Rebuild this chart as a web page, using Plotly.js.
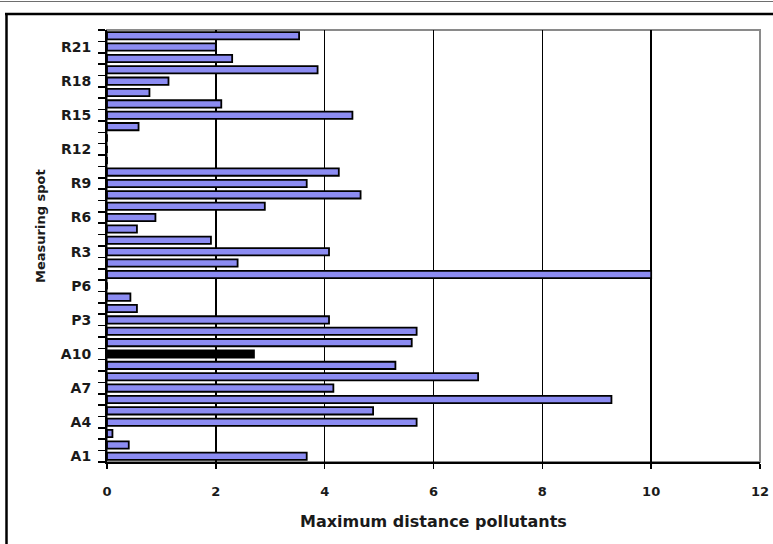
<!DOCTYPE html>
<html>
<head>
<meta charset="utf-8">
<script src="https://cdn.plot.ly/plotly-3.0.1.min.js"></script>
<style>
  html, body { margin: 0; padding: 0; background: #ffffff; }
  #chart { width: 773px; height: 544px; }
</style>
</head>
<body>
<div id="chart"></div>
<script>
// Measuring spots (bottom to top)
const categories = [
  'A1','A2','A3','A4','A5','A6','A7','A8','A9','A10',
  'P1','P2','P3','P4','P5','P6',
  'R1','R2','R3','R4','R5','R6','R7','R8','R9','R10',
  'R11','R12','R13','R14','R15','R16','R17','R18','R19','R20','R21','R22'
];
// Maximum distance pollutants
const values = [
  3.67, 0.40, 0.10, 5.69, 4.89, 9.27, 4.16, 6.82, 5.30, 2.70,
  5.60, 5.69, 4.08, 0.55, 0.43, 0.00,
  10.00, 2.40, 4.08, 1.91, 0.55, 0.89, 2.90, 4.66, 3.67, 4.26,
  0.00, 0.00, 0.00, 0.58, 4.51, 2.10, 0.78, 1.13, 3.87, 2.30, 2.00, 3.53
];
// Labelled spots on the category axis
const labelledSpots = ['A1','A4','A7','A10','P3','P6','R3','R6','R9','R12','R15','R18','R21'];
const highlighted = ['A10'];
const xTickValues = [0, 2, 4, 6, 8, 10, 12];

const fillColors = categories.map(c => highlighted.includes(c) ? '#000000' : '#8c8cf2');
const tickText = categories.map(c => labelledSpots.includes(c) ? c : '');

const L = 107, R = 760, T = 30, B = 462, W = 773, H = 544;
const px = v => (v - L) / (R - L);
const py = v => (B - v) / (B - T);

const trace = {
  type: 'bar',
  orientation: 'h',
  x: values,
  y: categories,
  marker: { color: fillColors, line: { color: '#000000', width: 1.8 } },
  hoverinfo: 'x+y'
};

const layout = {
  width: W, height: H,
  margin: { l: L, r: W - R, t: T, b: H - B, pad: 0 },
  paper_bgcolor: '#ffffff',
  plot_bgcolor: '#ffffff',
  showlegend: false,
  bargap: 0.36,
  font: { family: 'DejaVu Sans, Arial, sans-serif', color: '#1a1a1a' },
  xaxis: {
    range: [0, 12],
    tickvals: xTickValues,
    ticks: 'outside', ticklen: 5, tickwidth: 1.5, tickcolor: '#000000',
    ticklabelstandoff: 11,
    showline: true, linecolor: '#000000', linewidth: 2,
    showgrid: true, gridcolor: '#000000', gridwidth: 1.6,
    zeroline: false,
    tickfont: { size: 13, weight: 'bold', color: '#1a1a1a' },
    fixedrange: true
  },
  yaxis: {
    type: 'category',
    categoryorder: 'array', categoryarray: categories,
    tickvals: categories, ticktext: tickText,
    tickson: 'boundaries',
    ticks: 'outside', ticklen: 7, tickwidth: 1.6, tickcolor: '#000000',
    ticklabelstandoff: 11,
    showline: true, linecolor: '#000000', linewidth: 2,
    showgrid: false, zeroline: false,
    tickfont: { size: 14, weight: 'bold', color: '#1a1a1a' },
    fixedrange: true
  },
  annotations: [
    { text: 'Maximum distance pollutants', xref: 'paper', yref: 'paper',
      x: px(433), y: py(521), xanchor: 'center', yanchor: 'middle', showarrow: false,
      font: { size: 16, weight: 'bold', color: '#1a1a1a' } },
    { text: 'Measuring spot', xref: 'paper', yref: 'paper', textangle: -90,
      x: px(40), y: py(226), xanchor: 'center', yanchor: 'middle', showarrow: false,
      font: { size: 13, weight: 'bold', color: '#1a1a1a' } }
  ],
  shapes: [
    // plot area border (gray)
    { type: 'rect', xref: 'paper', yref: 'paper', x0: 0, x1: 1, y0: 0, y1: 1,
      line: { color: '#8a8a8a', width: 2 }, layer: 'below' },
    // top thin gray rule
    { type: 'line', xref: 'paper', yref: 'paper', x0: px(0), x1: px(W), y0: py(1.5), y1: py(1.5),
      line: { color: '#6e6e6e', width: 1 } },
    // outer black frame: top and left
    { type: 'line', xref: 'paper', yref: 'paper', x0: px(5), x1: px(W), y0: py(14), y1: py(14),
      line: { color: '#000000', width: 2.5 } },
    { type: 'line', xref: 'paper', yref: 'paper', x0: px(6.5), x1: px(6.5), y0: py(13), y1: py(H),
      line: { color: '#000000', width: 2.5 } }
  ]
};

Plotly.newPlot('chart', [trace], layout, { displayModeBar: false, staticPlot: true });
</script>
</body>
</html>
